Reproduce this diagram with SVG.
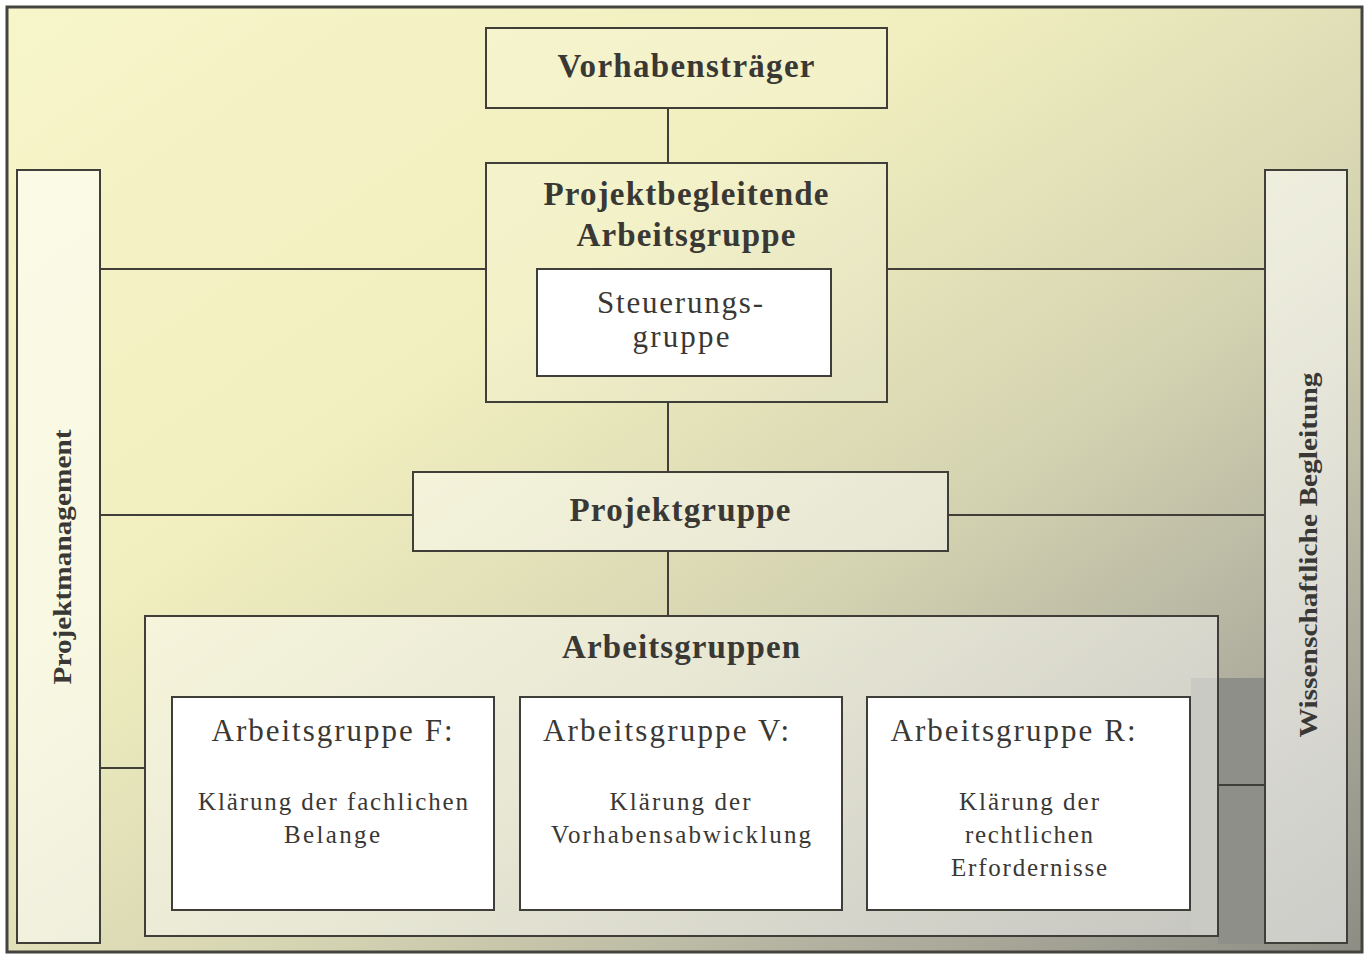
<svg xmlns="http://www.w3.org/2000/svg" width="1369" height="959" viewBox="0 0 1369 959">
  <defs>
    <linearGradient id="bg" x1="0" y1="0" x2="1" y2="1">
      <stop offset="0" stop-color="#f7f5ca"/>
      <stop offset="0.35" stop-color="#f1efbf"/>
      <stop offset="0.6" stop-color="#d6d5b2"/>
      <stop offset="0.8" stop-color="#b2b1a0"/>
      <stop offset="1" stop-color="#8d8d85"/>
    </linearGradient>
    <style>
      .frame { fill: url(#bg); stroke: #45433e; stroke-width: 3; }
      .box { stroke: #403e39; stroke-width: 2; }
      .tint1 { fill: #ffffff; fill-opacity: 0.15; }
      .tint2 { fill: #ffffff; fill-opacity: 0.45; }
      .tint3 { fill: #ffffff; fill-opacity: 0.55; }
      .white { fill: #ffffff; }
      .conn line { stroke: #403e39; stroke-width: 2; }
      text { fill: #3a3834; text-anchor: middle; }
      .bold { font-family: "Liberation Serif", serif; font-weight: bold; font-size: 33px; }
      .reg { font-family: "Liberation Serif", serif; font-size: 31px; }
      .small { font-family: "Liberation Serif", serif; font-size: 25px; }
      .side { font-family: "Liberation Serif", serif; font-weight: bold; font-size: 25px; }
    </style>
  </defs>

  <rect x="0" y="0" width="1369" height="959" fill="#ffffff"/>
  <rect class="frame" x="7" y="7" width="1355" height="945"/>
  <!-- darker band at the lower right -->
  <rect x="1218" y="678" width="47" height="266" fill="#8f8f89"/>

  <g class="conn">
    <line x1="668" y1="108" x2="668" y2="163"/>
    <line x1="668" y1="402" x2="668" y2="472"/>
    <line x1="668" y1="551" x2="668" y2="616"/>
    <line x1="100" y1="269" x2="486" y2="269"/>
    <line x1="887" y1="269" x2="1265" y2="269"/>
    <line x1="100" y1="515" x2="413" y2="515"/>
    <line x1="948" y1="515" x2="1265" y2="515"/>
    <line x1="100" y1="768" x2="145" y2="768"/>
    <line x1="1218" y1="785" x2="1265" y2="785"/>
  </g>

  <g id="projektmanagement">
    <rect class="box tint3" x="17" y="170" width="83" height="773"/>
    <text class="side" transform="translate(71,557) rotate(-90)" textLength="255" lengthAdjust="spacingAndGlyphs">Projektmanagement</text>
  </g>

  <g id="wissenschaftliche-begleitung">
    <rect class="box tint3" x="1265" y="170" width="82" height="773"/>
    <text class="side" transform="translate(1317,555) rotate(-90)" textLength="365" lengthAdjust="spacingAndGlyphs">Wissenschaftliche Begleitung</text>
  </g>

  <g id="vorhabenstraeger">
    <rect class="box tint1" x="486" y="28" width="401" height="80"/>
    <text class="bold" x="686" y="77" textLength="257" lengthAdjust="spacing">Vorhabensträger</text>
  </g>

  <g id="projektbegleitende-arbeitsgruppe">
    <rect class="box tint1" x="486" y="163" width="401" height="239"/>
    <text class="bold" x="686" y="205" textLength="285" lengthAdjust="spacing">Projektbegleitende</text>
    <text class="bold" x="686" y="246" textLength="219" lengthAdjust="spacing">Arbeitsgruppe</text>
  </g>

  <g id="steuerungsgruppe">
    <rect class="box white" x="537" y="269" width="294" height="107"/>
    <text class="reg" x="680" y="313" textLength="166" lengthAdjust="spacing">Steuerungs-</text>
    <text class="reg" x="681" y="347" textLength="97" lengthAdjust="spacing">gruppe</text>
  </g>

  <g id="projektgruppe">
    <rect class="box tint2" x="413" y="472" width="535" height="79"/>
    <text class="bold" x="680" y="521" textLength="221" lengthAdjust="spacing">Projektgruppe</text>
  </g>

  <g id="arbeitsgruppen">
    <rect class="box tint2" x="145" y="616" width="1073" height="320"/>
    <rect x="1191" y="678" width="26" height="257" fill="#cacac4"/>
    <text class="bold" x="681" y="658" textLength="238" lengthAdjust="spacing">Arbeitsgruppen</text>
  </g>

  <g id="arbeitsgruppe-f">
    <rect class="box white" x="172" y="697" width="322" height="213"/>
    <text class="reg" x="332" y="741" textLength="241" lengthAdjust="spacing">Arbeitsgruppe F:</text>
    <text class="small" x="333" y="810" textLength="270" lengthAdjust="spacing">Klärung der fachlichen</text>
    <text class="small" x="332" y="843" textLength="96" lengthAdjust="spacing">Belange</text>
  </g>

  <g id="arbeitsgruppe-v">
    <rect class="box white" x="520" y="697" width="322" height="213"/>
    <text class="reg" x="666" y="741" textLength="246" lengthAdjust="spacing">Arbeitsgruppe V:</text>
    <text class="small" x="680" y="810" textLength="141" lengthAdjust="spacing">Klärung der</text>
    <text class="small" x="681" y="843" textLength="260" lengthAdjust="spacing">Vorhabensabwicklung</text>
  </g>

  <g id="arbeitsgruppe-r">
    <rect class="box white" x="867" y="697" width="323" height="213"/>
    <text class="reg" x="1013" y="741" textLength="245" lengthAdjust="spacing">Arbeitsgruppe R:</text>
    <text class="small" x="1029" y="810" textLength="140" lengthAdjust="spacing">Klärung der</text>
    <text class="small" x="1029" y="843" textLength="128" lengthAdjust="spacing">rechtlichen</text>
    <text class="small" x="1029" y="876" textLength="156" lengthAdjust="spacing">Erfordernisse</text>
  </g>
</svg>
